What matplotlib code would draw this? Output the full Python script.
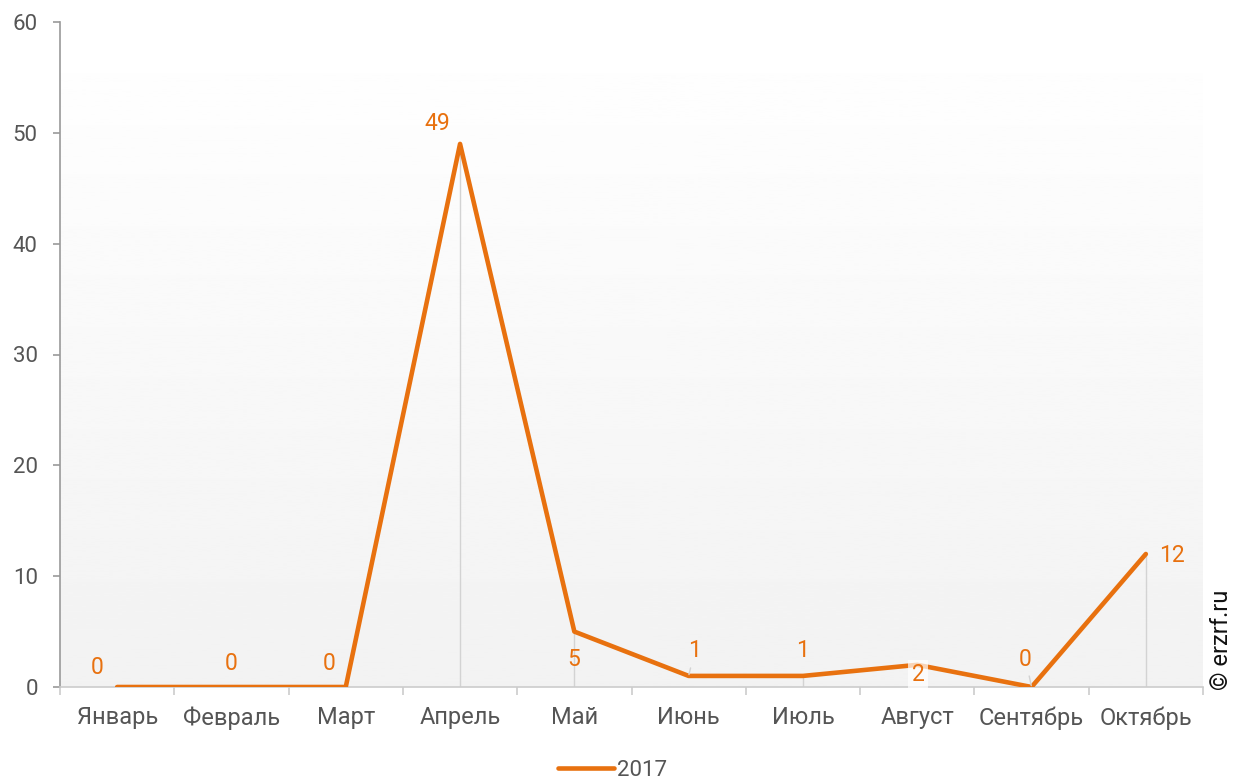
import numpy as np
import matplotlib.pyplot as plt

plt.rcParams['font.family'] = ['Roboto', 'DejaVu Sans']

months = ['Январь', 'Февраль', 'Март', 'Апрель', 'Май', 'Июнь', 'Июль',
          'Август', 'Сентябрь', 'Октябрь']
values = [0, 0, 0, 49, 5, 1, 1, 2, 0, 12]
series_name = '2017'
# label offsets in pixels (dx, dy)
label_offsets = [(-20, 20), (0, 24), (-17, 24), (-23, 20), (-1, -28),
                 (6, 25), (0, 25), (1, -10), (-6, 28), (26, -1)]
drop_idx = [3, 4, 6, 9]
leader_idx = [5, 8]

orange = '#E8710F'
x = np.arange(len(months))

fig = plt.figure(figsize=(12.42, 7.82), dpi=100)
ax = fig.add_axes([60 / 1242, 95 / 782, 1143 / 1242, 665 / 782])

# gradient background
grad = np.linspace(1.0, 0.949, 256).reshape(-1, 1)
ax.imshow(grad, cmap='gray', vmin=0, vmax=1, aspect='auto',
          extent=(-0.5, 9.5, 0, 60), zorder=0, origin='upper')

ax.set_xlim(-0.5, 9.5)
ax.set_ylim(0, 60)

ax.vlines([x[i] for i in drop_idx], 0, [values[i] for i in drop_idx],
          color='#d3d3d3', lw=1, zorder=1)

ax.plot(x, values, color=orange, lw=3.3, solid_capstyle='round',
        solid_joinstyle='round', zorder=3, label=series_name)

for i, v in enumerate(values):
    dx, dy = label_offsets[i]
    kw = {}
    if i in leader_idx:
        kw['arrowprops'] = dict(arrowstyle='-', color='#d3d3d3', lw=1,
                                shrinkA=2, shrinkB=1)
    bbox = None
    if i == 7:
        bbox = dict(boxstyle='square,pad=0.15', fc='white', ec='none', alpha=0.7)
    ax.annotate(str(v), (x[i], v), xytext=(dx, dy), textcoords='offset pixels',
                ha='center', va='center', fontsize=16.5, color=orange,
                bbox=bbox, zorder=4, **kw)

for s in ['top', 'right']:
    ax.spines[s].set_visible(False)
ax.spines['left'].set_color('#999999')
ax.spines['left'].set_linewidth(1.2)
ax.spines['bottom'].set_color('#cccccc')
ax.spines['bottom'].set_linewidth(1.2)

ax.set_yticks(np.arange(0, 61, 10))
ax.tick_params(axis='y', colors='#999999', length=5, width=1.2,
               labelcolor='#555555', labelsize=16, pad=11)
ax.set_xticks(x)
ax.set_xticklabels(months)
ax.tick_params(axis='x', which='major', length=0, labelcolor='#555555',
               labelsize=17, pad=14)
ax.set_xticks(np.arange(-0.5, 10, 1), minor=True)
ax.tick_params(axis='x', which='minor', length=6, width=1.2, color='#cccccc')

fig.legend(handles=ax.get_lines(), loc='center',
           bbox_to_anchor=(613 / 1242, (782 - 770) / 782), frameon=False,
           fontsize=16, handlelength=2.5, handletextpad=0.15,
           labelcolor='#555555', borderpad=0)

fig.text(1222 / 1242, (782 - 640) / 782, '© erzrf.ru', rotation=90,
         ha='center', va='center', fontsize=17, color='#111111')

fig.savefig('out.png', dpi=100)
